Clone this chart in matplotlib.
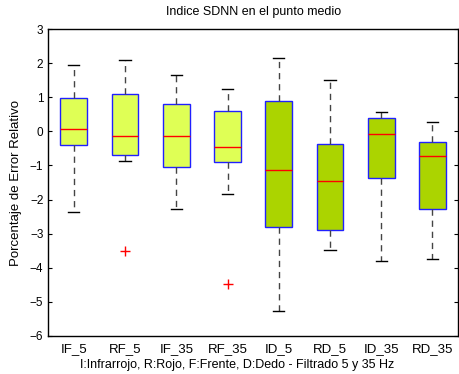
import matplotlib
matplotlib.use("Agg")
import matplotlib.pyplot as plt

# ── Datos: resumen de cajas por condición ─────────────────────────────────────
labels   = ["IF_5", "RF_5", "IF_35", "RF_35", "ID_5", "RD_5", "ID_35", "RD_35"]
whislo   = [-2.36, -0.87, -2.27, -1.84, -5.26, -3.48, -3.81, -3.75]
q1       = [-0.40, -0.69, -1.05, -0.91, -2.82, -2.88, -1.38, -2.29]
medians  = [0.06, -0.14, -0.14, -0.46, -1.14, -1.47, -0.07, -0.73]
q3       = [0.97, 1.11, 0.79, 0.59, 0.90, -0.36, 0.38, -0.32]
whishi   = [1.95, 2.10, 1.66, 1.23, 2.15, 1.51, 0.56, 0.28]
outliers = [[], [-3.51], [], [-4.49], [], [], [], []]

FRENTE_COLOR = "#DFFF55"
DEDO_COLOR   = "#ABD400"

plt.rcParams.update({
    "font.family": "Liberation Sans",
    "font.size": 8,
})

stats = []
for i, lab in enumerate(labels):
    stats.append(dict(label=lab, whislo=whislo[i], q1=q1[i], med=medians[i],
                      q3=q3[i], whishi=whishi[i], fliers=outliers[i]))

fig = plt.figure(figsize=(4.59, 3.74), dpi=100)
ax = fig.add_axes([0.105, 0.102, 0.893, 0.82])

bp = ax.bxp(stats, positions=range(1, 9), widths=0.52, patch_artist=True,
            showfliers=True,
            boxprops=dict(edgecolor="#2020FF", linewidth=1.0),
            medianprops=dict(color="red", linewidth=1.0),
            whiskerprops=dict(color="#444444", linewidth=1.0, linestyle=(0, (4.5, 3.5))),
            capprops=dict(color="black", linewidth=1.0),
            capwidths=0.22,
            flierprops=dict(marker="+", markeredgecolor="red", markersize=7,
                            linestyle="none"))

for k, patch in enumerate(bp["boxes"]):
    patch.set_facecolor(FRENTE_COLOR if k < 4 else DEDO_COLOR)

ax.set_xlim(0.5, 8.5)
ax.set_ylim(-6, 3)
ax.set_yticks(range(-6, 4))
ax.set_yticklabels([("\u2212%d" % -v) if v < 0 else str(v) for v in range(-6, 4)])
ax.set_xticklabels(labels, fontsize=9.5)
ax.tick_params(axis="x", length=0, pad=5)
ax.tick_params(axis="y", direction="in", right=True, length=3, labelsize=8.5)
for sp in ax.spines.values():
    sp.set_linewidth(1.0)

ax.set_title("Indice SDNN en el punto medio", fontsize=9, pad=10)
ax.set_ylabel("Porcentaje de Error Relativo", fontsize=9.5, labelpad=6)
ax.set_xlabel("I:Infrarrojo, R:Rojo, F:Frente, D:Dedo - Filtrado 5 y 35 Hz",
              fontsize=9)
ax.xaxis.set_label_coords(0.46, -0.075)

fig.savefig("out.png", dpi=100)
